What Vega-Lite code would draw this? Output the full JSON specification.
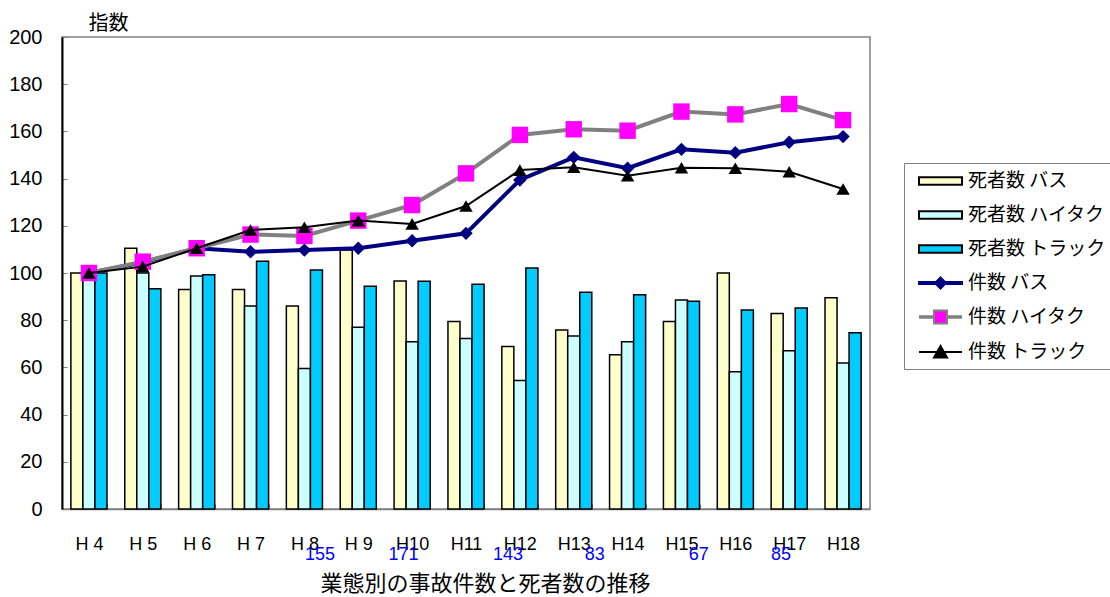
{
  "$schema": "https://vega.github.io/schema/vega-lite/v6.json",
  "width": 808,
  "height": 472,
  "autosize": {"type": "none"},
  "padding": {"left": 62, "top": 37, "right": 240, "bottom": 88},
  "background": "white",
  "config": {
    "font": "Liberation Sans",
    "view": {"stroke": "#808080", "strokeWidth": 1.5},
    "axis": {"grid": false},
    "legend": {
      "title": null, "orient": "none", "legendX": 842, "legendY": 126,
      "symbolSize": 400, "symbolStrokeWidth": 2, "labelFont": "Noto Sans CJK JP", "labelFontSize": 19, "labelColor": "#000000",
      "labelOffset": 35, "rowPadding": 13, "padding": 7,
      "strokeColor": "#808080", "fillColor": "#FFFFFF", "symbolOpacity": 1
    }
  },
  "datasets": {
    "deaths": [
      {"year": "H 4", "series": "死者数 バス", "value": 100},
      {"year": "H 4", "series": "死者数 ハイタク", "value": 100},
      {"year": "H 4", "series": "死者数 トラック", "value": 100},
      {"year": "H 5", "series": "死者数 バス", "value": 110.5},
      {"year": "H 5", "series": "死者数 ハイタク", "value": 100},
      {"year": "H 5", "series": "死者数 トラック", "value": 93.3},
      {"year": "H 6", "series": "死者数 バス", "value": 93},
      {"year": "H 6", "series": "死者数 ハイタク", "value": 98.7},
      {"year": "H 6", "series": "死者数 トラック", "value": 99.3},
      {"year": "H 7", "series": "死者数 バス", "value": 93},
      {"year": "H 7", "series": "死者数 ハイタク", "value": 86},
      {"year": "H 7", "series": "死者数 トラック", "value": 105},
      {"year": "H 8", "series": "死者数 バス", "value": 86},
      {"year": "H 8", "series": "死者数 ハイタク", "value": 59.5},
      {"year": "H 8", "series": "死者数 トラック", "value": 101.3},
      {"year": "H 9", "series": "死者数 バス", "value": 109.7},
      {"year": "H 9", "series": "死者数 ハイタク", "value": 77},
      {"year": "H 9", "series": "死者数 トラック", "value": 94.4},
      {"year": "H10", "series": "死者数 バス", "value": 96.6},
      {"year": "H10", "series": "死者数 ハイタク", "value": 70.9},
      {"year": "H10", "series": "死者数 トラック", "value": 96.5},
      {"year": "H11", "series": "死者数 バス", "value": 79.4},
      {"year": "H11", "series": "死者数 ハイタク", "value": 72.2},
      {"year": "H11", "series": "死者数 トラック", "value": 95.2},
      {"year": "H12", "series": "死者数 バス", "value": 68.9},
      {"year": "H12", "series": "死者数 ハイタク", "value": 54.4},
      {"year": "H12", "series": "死者数 トラック", "value": 102.1},
      {"year": "H13", "series": "死者数 バス", "value": 75.8},
      {"year": "H13", "series": "死者数 ハイタク", "value": 73.3},
      {"year": "H13", "series": "死者数 トラック", "value": 91.8},
      {"year": "H14", "series": "死者数 バス", "value": 65.4},
      {"year": "H14", "series": "死者数 ハイタク", "value": 70.9},
      {"year": "H14", "series": "死者数 トラック", "value": 90.8},
      {"year": "H15", "series": "死者数 バス", "value": 79.4},
      {"year": "H15", "series": "死者数 ハイタク", "value": 88.6},
      {"year": "H15", "series": "死者数 トラック", "value": 88},
      {"year": "H16", "series": "死者数 バス", "value": 100},
      {"year": "H16", "series": "死者数 ハイタク", "value": 58.2},
      {"year": "H16", "series": "死者数 トラック", "value": 84.3},
      {"year": "H17", "series": "死者数 バス", "value": 82.8},
      {"year": "H17", "series": "死者数 ハイタク", "value": 67.1},
      {"year": "H17", "series": "死者数 トラック", "value": 85.2},
      {"year": "H18", "series": "死者数 バス", "value": 89.5},
      {"year": "H18", "series": "死者数 ハイタク", "value": 61.9},
      {"year": "H18", "series": "死者数 トラック", "value": 74.7}
    ],
    "counts": [
      {"year": "H 4", "series": "件数 バス", "value": 100},
      {"year": "H 5", "series": "件数 バス", "value": 104.5},
      {"year": "H 6", "series": "件数 バス", "value": 110.5},
      {"year": "H 7", "series": "件数 バス", "value": 109},
      {"year": "H 8", "series": "件数 バス", "value": 109.7},
      {"year": "H 9", "series": "件数 バス", "value": 110.5},
      {"year": "H10", "series": "件数 バス", "value": 113.7},
      {"year": "H11", "series": "件数 バス", "value": 116.8},
      {"year": "H12", "series": "件数 バス", "value": 139.4},
      {"year": "H13", "series": "件数 バス", "value": 149},
      {"year": "H14", "series": "件数 バス", "value": 144.4},
      {"year": "H15", "series": "件数 バス", "value": 152.4},
      {"year": "H16", "series": "件数 バス", "value": 151},
      {"year": "H17", "series": "件数 バス", "value": 155.4},
      {"year": "H18", "series": "件数 バス", "value": 157.8},
      {"year": "H 4", "series": "件数 ハイタク", "value": 100},
      {"year": "H 5", "series": "件数 ハイタク", "value": 104.8},
      {"year": "H 6", "series": "件数 ハイタク", "value": 110.5},
      {"year": "H 7", "series": "件数 ハイタク", "value": 116.3},
      {"year": "H 8", "series": "件数 ハイタク", "value": 115.7},
      {"year": "H 9", "series": "件数 ハイタク", "value": 122.2},
      {"year": "H10", "series": "件数 ハイタク", "value": 128.8},
      {"year": "H11", "series": "件数 ハイタク", "value": 142.2},
      {"year": "H12", "series": "件数 ハイタク", "value": 158.5},
      {"year": "H13", "series": "件数 ハイタク", "value": 160.9},
      {"year": "H14", "series": "件数 ハイタク", "value": 160.3},
      {"year": "H15", "series": "件数 ハイタク", "value": 168.4},
      {"year": "H16", "series": "件数 ハイタク", "value": 167.2},
      {"year": "H17", "series": "件数 ハイタク", "value": 171.6},
      {"year": "H18", "series": "件数 ハイタク", "value": 164.8},
      {"year": "H 4", "series": "件数 トラック", "value": 100},
      {"year": "H 5", "series": "件数 トラック", "value": 102.7},
      {"year": "H 6", "series": "件数 トラック", "value": 110.5},
      {"year": "H 7", "series": "件数 トラック", "value": 118.2},
      {"year": "H 8", "series": "件数 トラック", "value": 119.4},
      {"year": "H 9", "series": "件数 トラック", "value": 122.2},
      {"year": "H10", "series": "件数 トラック", "value": 120.8},
      {"year": "H11", "series": "件数 トラック", "value": 128.4},
      {"year": "H12", "series": "件数 トラック", "value": 143.6},
      {"year": "H13", "series": "件数 トラック", "value": 144.8},
      {"year": "H14", "series": "件数 トラック", "value": 141.2},
      {"year": "H15", "series": "件数 トラック", "value": 144.6},
      {"year": "H16", "series": "件数 トラック", "value": 144.4},
      {"year": "H17", "series": "件数 トラック", "value": 142.9},
      {"year": "H18", "series": "件数 トラック", "value": 135.6}
    ],
    "notes": [
      {"pos": 4.79, "label": "155"},
      {"pos": 6.34, "label": "171"},
      {"pos": 8.28, "label": "143"},
      {"pos": 9.89, "label": "83"},
      {"pos": 11.82, "label": "67"},
      {"pos": 13.35, "label": "85"}
    ]
  },
  "layer": [
    {
      "layer": [
        {
          "data": {"name": "deaths"},
          "mark": {"type": "bar", "stroke": "#000000", "strokeWidth": 1.5},
          "encoding": {
            "x": {
              "field": "year", "type": "nominal", "sort": null,
              "scale": {"paddingInner": 0.33, "paddingOuter": 0.165},
              "axis": {
                "labelAngle": 0, "labelFont": "Liberation Sans", "labelFontSize": 18, "labelColor": "#000000",
                "labelPadding": 31, "tickBand": "extent", "tickSize": -5, "tickColor": "#808080",
                "domainColor": "#808080", "domainWidth": 1.5,
                "title": "業態別の事故件数と死者数の推移", "titleFont": "Noto Sans CJK JP", "titleFontSize": 22,
                "titleFontWeight": "normal", "titleColor": "#000000", "titleX": 423, "titleY": 81,
                "titleAlign": "center", "titleBaseline": "alphabetic"
              }
            },
            "xOffset": {
              "field": "series", "type": "nominal",
              "sort": ["死者数 バス", "死者数 ハイタク", "死者数 トラック"],
              "scale": {"paddingInner": 0, "paddingOuter": 0}
            },
            "y": {
              "field": "value", "type": "quantitative",
              "scale": {"domain": [0, 200], "nice": false},
              "axis": {
                "values": [0, 20, 40, 60, 80, 100, 120, 140, 160, 180, 200],
                "labelFont": "Liberation Sans", "labelFontSize": 20, "labelColor": "#000000",
                "labelPadding": 25, "tickSize": -5, "tickColor": "#808080",
                "domainColor": "#000000", "domainWidth": 2,
                "title": "指数", "titleAngle": 0, "titleX": 46, "titleY": -8,
                "titleAlign": "center", "titleBaseline": "alphabetic",
                "titleFont": "Noto Sans CJK JP", "titleFontSize": 20, "titleFontWeight": "normal", "titleColor": "#000000"
              }
            },
            "color": {
              "field": "series", "type": "nominal",
              "scale": {
                "domain": ["死者数 バス", "死者数 ハイタク", "死者数 トラック", "件数 バス", "件数 ハイタク", "件数 トラック"],
                "range": ["#FFFFCC", "#CCFFFF", "#00CCFF", "#000080", "#FF00FF", "#000000"]
              },
              "legend": {"title": null}
            }
          }
        },
        {
          "data": {"name": "counts"},
          "transform": [{"filter": "false"}],
          "mark": {"type": "point", "filled": true, "opacity": 1},
          "encoding": {
            "x": {"field": "year", "type": "nominal", "sort": null},
            "y": {"field": "value", "type": "quantitative"},
            "shape": {
              "field": "series", "type": "nominal",
              "scale": {
                "domain": ["死者数 バス", "死者数 ハイタク", "死者数 トラック", "件数 バス", "件数 ハイタク", "件数 トラック"],
                "range": [
                  "M-0.3,-0.38H4V0.38H-0.3Z",
                  "M-0.3,-0.38H4V0.38H-0.3Z",
                  "M-0.3,-0.38H4V0.38H-0.3Z",
                  "M-0.3,-0.1H4V0.1H-0.3ZM1.85,-0.55L2.4,0L1.85,0.55L1.3,0Z",
                  "M-0.3,-0.08H1.2M-0.3,0.08H1.2M2.5,-0.08H4M2.5,0.08H4M1.2,-0.65H2.5V0.65H1.2Z",
                  "M-0.3,0H4M1.85,-0.6L2.5,0.55H1.2Z"
                ]
              },
              "legend": {"title": null}
            }
          }
        },
        {
          "data": {"name": "counts"},
          "transform": [{"filter": "datum.series == '件数 バス'"}],
          "mark": {"type": "line", "strokeWidth": 4},
          "encoding": {
            "x": {"field": "year", "type": "nominal", "sort": null},
            "y": {"field": "value", "type": "quantitative"},
            "stroke": {
              "field": "series", "type": "nominal",
              "scale": {
                "domain": ["死者数 バス", "死者数 ハイタク", "死者数 トラック", "件数 バス", "件数 ハイタク", "件数 トラック"],
                "range": ["#000000", "#000000", "#000000", "#000080", "#808080", "#000000"]
              },
              "legend": {"title": null}
            }
          }
        },
        {
          "data": {"name": "counts"},
          "transform": [{"filter": "datum.series == '件数 バス'"}],
          "mark": {"type": "point", "shape": "diamond", "filled": true, "size": 180, "color": "#000080", "opacity": 1},
          "encoding": {
            "x": {"field": "year", "type": "nominal", "sort": null},
            "y": {"field": "value", "type": "quantitative"}
          }
        },
        {
          "data": {"name": "counts"},
          "transform": [{"filter": "datum.series == '件数 ハイタク'"}],
          "mark": {"type": "line", "strokeWidth": 4},
          "encoding": {
            "x": {"field": "year", "type": "nominal", "sort": null},
            "y": {"field": "value", "type": "quantitative"},
            "stroke": {"field": "series", "type": "nominal", "legend": {"title": null}}
          }
        },
        {
          "data": {"name": "counts"},
          "transform": [{"filter": "datum.series == '件数 ハイタク'"}],
          "mark": {"type": "point", "shape": "square", "filled": true, "size": 270, "color": "#FF00FF", "opacity": 1},
          "encoding": {
            "x": {"field": "year", "type": "nominal", "sort": null},
            "y": {"field": "value", "type": "quantitative"}
          }
        },
        {
          "data": {"name": "counts"},
          "transform": [{"filter": "datum.series == '件数 トラック'"}],
          "mark": {"type": "line", "strokeWidth": 2},
          "encoding": {
            "x": {"field": "year", "type": "nominal", "sort": null},
            "y": {"field": "value", "type": "quantitative"},
            "stroke": {"field": "series", "type": "nominal", "legend": {"title": null}}
          }
        },
        {
          "data": {"name": "counts"},
          "transform": [{"filter": "datum.series == '件数 トラック'"}],
          "mark": {"type": "point", "shape": "triangle-up", "filled": true, "size": 180, "color": "#000000", "opacity": 1},
          "encoding": {
            "x": {"field": "year", "type": "nominal", "sort": null},
            "y": {"field": "value", "type": "quantitative"}
          }
        }
      ]
    },
    {
      "data": {"name": "notes"},
      "mark": {"type": "text", "font": "Liberation Sans", "fontSize": 18, "color": "#0000FF", "baseline": "top", "align": "center"},
      "encoding": {
        "x": {"field": "pos", "type": "quantitative", "scale": {"domain": [0, 15], "nice": false, "zero": true}, "axis": null},
        "y": {"datum": -15.5, "type": "quantitative", "scale": {"domain": [0, 200], "nice": false}, "axis": null},
        "text": {"field": "label"}
      }
    }
  ],
  "resolve": {"scale": {"x": "independent", "y": "independent"}}
}
